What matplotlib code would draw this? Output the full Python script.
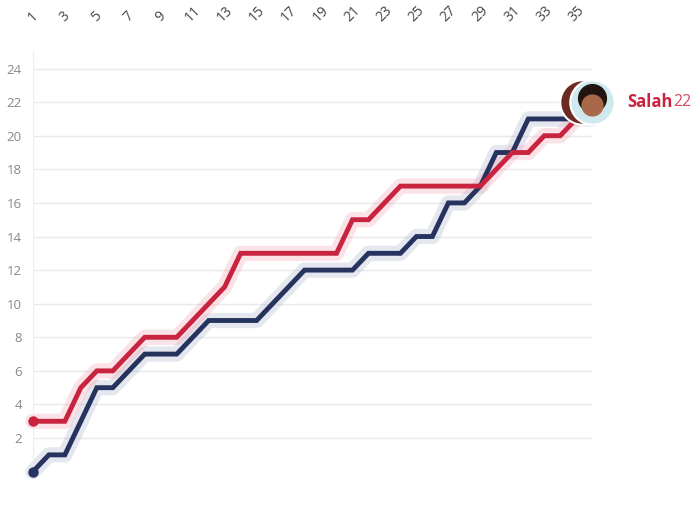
import matplotlib.pyplot as plt
import matplotlib.transforms as mtransforms

matches = list(range(1, 37))
salah_goals = [3, 3, 3, 5, 6, 6, 7, 8, 8, 8, 9, 10, 11, 13, 13, 13, 13, 13, 13, 13,
               15, 15, 16, 17, 17, 17, 17, 17, 17, 18, 19, 19, 20, 20, 21, 22]
rival_goals = [0, 1, 1, 3, 5, 5, 6, 7, 7, 7, 8, 9, 9, 9, 9, 10, 11, 12, 12, 12,
               12, 13, 13, 13, 14, 14, 16, 16, 17, 19, 19, 21, 21, 21, 21, 21]
x_ticks = list(range(1, 36, 2))
y_ticks = list(range(2, 25, 2))
label_name = "Salah"

red = "#c9243f"
navy = "#27335f"

fig = plt.figure(figsize=(7, 5.27), dpi=100)
ax = fig.add_axes([0.047, 0.105, 0.799, 0.8])

ax.set_xlim(1, 36)
ax.set_ylim(0, 25.1)

# series: halo first, then the line itself
for goals, color, halo in [(rival_goals, navy, "#aab0cc"), (salah_goals, red, "#f0a0b0")]:
    ax.plot(matches, goals, color=halo, lw=11, alpha=0.3, solid_capstyle="round",
            solid_joinstyle="round", clip_on=False, zorder=2)
    ax.plot(matches, goals, color=color, lw=3.5, solid_joinstyle="miter", clip_on=False, zorder=3)
    ax.plot(matches[0], goals[0], "o", color=color, ms=6.5, clip_on=False, zorder=4)

# avatars at the end of the lines
back = mtransforms.offset_copy(ax.transData, fig=fig, x=-10, y=0, units="dots")
ax.plot(matches[-1], salah_goals[-1], "o", ms=32, color="#6b2a22", mec="white", mew=1.5,
        transform=back, clip_on=False, zorder=5)
ax.plot(matches[-1], salah_goals[-1], "o", ms=32, color="#cfe9ee", mec="white", mew=1.5,
        clip_on=False, zorder=6)
hair = mtransforms.offset_copy(ax.transData, fig=fig, x=0, y=4, units="dots")
ax.plot(matches[-1], salah_goals[-1], "o", ms=20, color="#22150f", transform=hair,
        clip_on=False, zorder=7)
face = mtransforms.offset_copy(ax.transData, fig=fig, x=0, y=-3, units="dots")
ax.plot(matches[-1], salah_goals[-1], "o", ms=15, color="#a8694a", transform=face,
        clip_on=False, zorder=8)

ax.annotate(label_name, (matches[-1], salah_goals[-1]), xytext=(25, 0), textcoords="offset points",
            color=red, fontsize=12, fontweight="bold", family="Open Sans", va="center",
            annotation_clip=False)
ax.annotate(str(salah_goals[-1]), (matches[-1], salah_goals[-1]), xytext=(58, 0),
            textcoords="offset points", color="#d24a62", fontsize=11.5, family="Open Sans",
            va="center", annotation_clip=False)

ax.set_yticks(y_ticks)
ax.set_xticks(x_ticks)
ax.xaxis.tick_top()
ax.tick_params(axis="x", length=0, pad=18, labelsize=10, labelcolor="#444444")
ax.tick_params(axis="y", length=0, pad=8, labelsize=9.5, labelcolor="#888888")
for lab in ax.get_xticklabels():
    lab.set_rotation(45)
    lab.set_ha("center")
    lab.set_va("bottom")
for lab in ax.get_xticklabels() + ax.get_yticklabels():
    lab.set_family("Open Sans")

ax.grid(axis="y", color="#e9e9e9", lw=1)
ax.set_axisbelow(True)
for side in ["top", "right", "bottom"]:
    ax.spines[side].set_visible(False)
ax.spines["left"].set_color("#eeeeee")

fig.savefig("out.png", dpi=100, facecolor="white")
